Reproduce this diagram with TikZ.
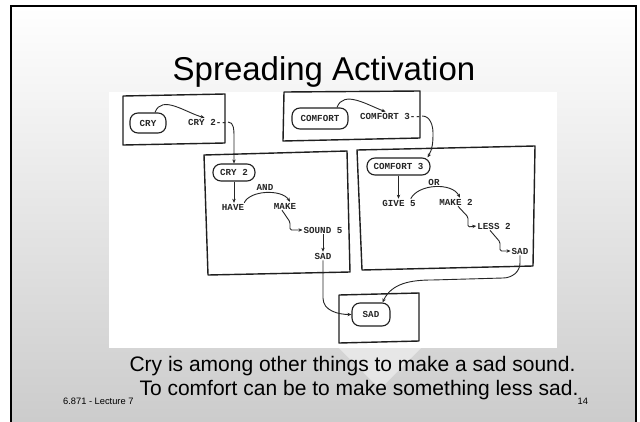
\documentclass[tikz,border=0pt]{standalone}
\usepackage{fontspec}
\setmainfont{Liberation Sans}
\newfontfamily\figfont{Liberation Mono}
\usetikzlibrary{arrows.meta}

\begin{document}
\begin{tikzpicture}[x=1pt,y=-1pt,
  frame/.style={draw=black!88, line width=1.4pt, line join=round},
  oval/.style={draw=black!88, line width=1.1pt, rounded corners=8pt, inner sep=0pt,
    font=\figfont\bfseries\fontsize{9.2}{10}\selectfont, text=black!85},
  lbl/.style={inner sep=1pt, font=\figfont\bfseries\fontsize{9.2}{10}\selectfont, text=black!85},
  link/.style={draw=black!85, line width=0.9pt},
  arr/.style={link, -{Stealth[length=4pt,width=3.4pt]}},
  heading/.style={font=\fontsize{33}{38}\selectfont, inner sep=0pt},
  caption/.style={font=\fontsize{21}{24}\selectfont, inner sep=0pt},
  foot/.style={font=\fontsize{9.3}{11}\selectfont, inner sep=0pt}]

\useasboundingbox (0,0) rectangle (640,421);

% slide background and border
\fill[white] (0,0) rectangle (640,421);
\shade[top color=white, bottom color=black!20] (11,6) rectangle (636,421);
\fill[white, opacity=0.45] (339,348) -- (421,348) -- (380,389) -- cycle;
\draw[line width=2.6pt] (11,6) rectangle (636,440);

% title
\node[heading, anchor=base] (title) at (324,80) {Spreading Activation};

% white panel holding the network
\fill[white] (109,92) rectangle (557,348);

% concept frames
\draw[frame] (123,96) -- (225,94) -- (225,143) -- (123,145) -- cycle;
\draw[frame] (284,92) -- (420,91) -- (420,138) -- (283,141) -- cycle;
\draw[frame] (204,155) -- (347,151) -- (350,272) -- (208,275) -- cycle;
\draw[frame] (357,150) -- (535,146) -- (533,266) -- (362,270) -- cycle;
\draw[frame] (339,295) -- (419,293) -- (419,341) -- (339,343) -- cycle;

% concept heads
\node[oval, minimum width=36pt, minimum height=20pt] (cry) at (148,123) {CRY};
\node[oval, minimum width=42pt, minimum height=17pt] (crytwo) at (234,172.5) {CRY 2};
\node[oval, minimum width=56pt, minimum height=21pt] (comfort) at (320,118.5) {COMFORT};
\node[oval, minimum width=63pt, minimum height=17pt] (comfthree) at (398.5,166.5) {COMFORT 3};
\node[oval, minimum width=38pt, minimum height=23pt] (sadc) at (371,314.5) {SAD};

% words inside the frames
\node[lbl, anchor=west] (crytxt) at (187,122) {CRY 2-{}-};
\node[lbl, anchor=west] (comftxt) at (359,116) {COMFORT 3-{}-};
\node[lbl] (have) at (233,207) {HAVE};
\node[lbl] (and) at (265,187) {AND};
\node[lbl] (make) at (285,206) {MAKE};
\node[lbl] (sound) at (323,230) {SOUND 5};
\node[lbl] (sadl) at (323,256) {SAD};
\node[lbl] (give) at (399,203) {GIVE 5};
\node[lbl] (or) at (434,182) {OR};
\node[lbl] (maketwo) at (456,202) {MAKE 2};
\node[lbl] (less) at (494,226) {LESS 2};
\node[lbl] (sadr) at (520,251) {SAD};

% bend points
\coordinate (k1) at (0,136);
\coordinate (k2) at (0,298);
\coordinate (k3) at (433,133);
\coordinate (k4) at (520,263);
\coordinate (k5) at (503,278);
\coordinate (k6) at (432,280);

% links
\draw[arr] ([xshift=7pt]cry.north) to[out=70,in=165] ([xshift=-3pt]crytxt.north);
\draw[arr] (crytxt.east) to[out=0,in=90] (crytwo.north |- k1) -- (crytwo.north);
\draw[arr] (crytwo.south) -- (crytwo.south |- have.north);
\draw[arr] ([xshift=-1pt]have.north east) .. controls (250,190) and (282,189) .. ([xshift=5pt]make.north);
\draw[arr, rounded corners=1.5pt] ([xshift=-3pt]make.south) -- (290,222) -- (290,230) -- (sound.west);
\draw[arr] (sound.south) -- (sound.south |- sadl.north);
\draw[arr] (sadl.south) -- (sadl.south |- k2) to[out=-90,in=180] (sadc.west);

\draw[arr] ([xshift=17pt]comfort.north) to[out=70,in=160] ([xshift=-5pt]comftxt.north);
\draw[arr] (comftxt.east) to[out=0,in=90] (k3) to[out=-90,in=60] ([xshift=-3pt]comfthree.north east);
\draw[arr] (comfthree.south) -- (comfthree.south |- give.north);
\draw[arr] ([xshift=-6pt]give.north east) .. controls (418,184) and (452,182) .. ([xshift=4pt]maketwo.north);
\draw[arr, rounded corners=1.5pt] ([xshift=2pt]maketwo.south) -- (468,217) -- (468,227) -- (less.west);
\draw[arr, rounded corners=1.5pt] ([xshift=-4pt]less.south) -- (500,242) -- (500,251) -- (sadr.west);
\draw[arr] (sadr.south) -- (k4) to[out=-90,in=0] (k5) -- (k6) to[out=180,in=65] ([xshift=-8pt]sadc.north east);

% caption and footer
\node[caption, anchor=base] (capa) at (352.5,371) {Cry is among other things to make a sad sound.};
\node[caption, anchor=base] (capb) at (359,395.5) {To comfort can be to make something less sad.};
\node[foot, anchor=base west] (lecture) at (63,404) {6.871 - Lecture 7};
\node[foot, anchor=base west] (page) at (577.5,404) {14};
\end{tikzpicture}
\end{document}
